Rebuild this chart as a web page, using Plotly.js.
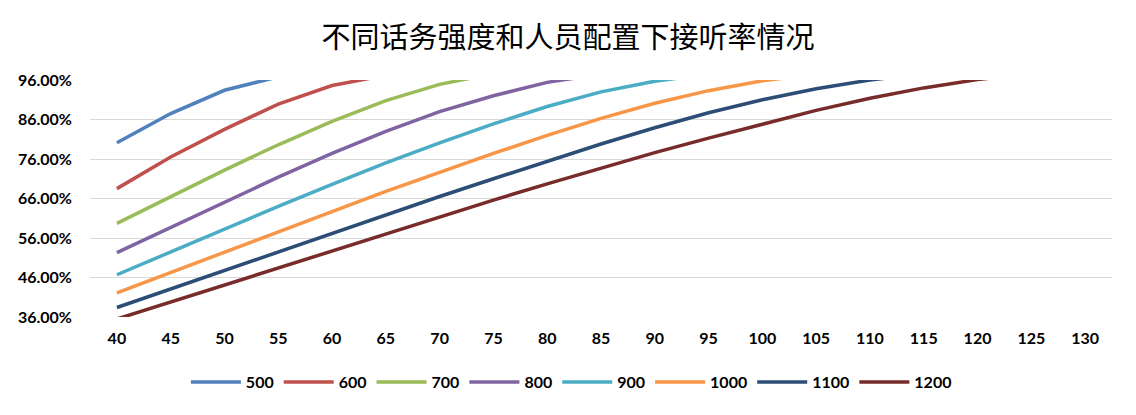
<!DOCTYPE html>
<html>
<head>
<meta charset="utf-8">
<script src="https://cdn.plot.ly/plotly-3.0.1.min.js"></script>
<style>
  html, body { margin: 0; padding: 0; background: #ffffff; }
  #chart { width: 1136px; height: 415px; }
</style>
</head>
<body>
<div id="chart"></div>
<script>
// 人员配置 (x axis categories)
const staffing = ['40', '45', '50', '55', '60', '65', '70', '75', '80', '85',
                  '90', '95', '100', '105', '110', '115', '120', '125', '130'];

// 话务强度 (series names)
const seriesNames = ['500', '600', '700', '800', '900', '1000', '1100', '1200'];

// 接听率 (values above 96% are clipped by the axis)
const rate500  = [0.801, 0.875, 0.934, 0.968, 0.984, 0.992, 0.996, 0.998, 0.999, 0.999, 1.000, 1.000, 1.000, 1.000, 1.000, 1.000, 1.000, 1.000, 1.000];
const rate600  = [0.685, 0.765, 0.835, 0.899, 0.946, 0.972, 0.986, 0.993, 0.997, 0.998, 0.999, 1.000, 1.000, 1.000, 1.000, 1.000, 1.000, 1.000, 1.000];
const rate700  = [0.597, 0.664, 0.732, 0.796, 0.855, 0.908, 0.949, 0.976, 0.988, 0.994, 0.997, 0.999, 0.999, 1.000, 1.000, 1.000, 1.000, 1.000, 1.000];
const rate800  = [0.523, 0.586, 0.651, 0.714, 0.774, 0.830, 0.880, 0.920, 0.954, 0.975, 0.987, 0.994, 0.997, 0.999, 0.999, 1.000, 1.000, 1.000, 1.000];
const rate900  = [0.467, 0.525, 0.583, 0.640, 0.696, 0.750, 0.801, 0.849, 0.893, 0.930, 0.957, 0.975, 0.987, 0.994, 0.997, 0.999, 0.999, 1.000, 1.000];
const rate1000 = [0.421, 0.473, 0.525, 0.576, 0.627, 0.678, 0.727, 0.774, 0.820, 0.863, 0.901, 0.933, 0.958, 0.975, 0.987, 0.994, 0.997, 0.999, 1.000];
const rate1100 = [0.384, 0.431, 0.478, 0.525, 0.572, 0.619, 0.665, 0.710, 0.755, 0.798, 0.839, 0.877, 0.910, 0.938, 0.960, 0.976, 0.987, 0.994, 0.997];
const rate1200 = [0.355, 0.398, 0.441, 0.485, 0.528, 0.571, 0.614, 0.656, 0.697, 0.737, 0.776, 0.813, 0.848, 0.883, 0.914, 0.940, 0.961, 0.977, 0.988];

const rates = [rate500, rate600, rate700, rate800, rate900, rate1000, rate1100, rate1200];

// Excel 2010 default palette, last two are the darker accent 1 / accent 2
const lineColors = ['#4F81BD', '#C0504D', '#9BBB59', '#8064A2',
                    '#4BACC6', '#F79646', '#2C4D75', '#772C2A'];

const latin = 'Lato, "Open Sans", "Noto Sans", sans-serif';
const cjk = '"Noto Sans CJK SC", "Noto Sans", sans-serif';

const traces = seriesNames.map((name, i) => ({
    x: staffing,
    y: rates[i],
    name: name,
    type: 'scatter',
    mode: 'lines',
    line: { color: lineColors[i], width: 3.5 },
    hovertemplate: '%{x}: %{y:.2%}<extra>' + name + '</extra>'
}));

const layout = {
    width: 1136,
    height: 415,
    paper_bgcolor: '#ffffff',
    plot_bgcolor: '#ffffff',
    margin: { t: 80, r: 24, b: 98, l: 90 },
    title: {
        text: '不同话务强度和人员配置下接听率情况',
        font: { family: cjk, size: 29, color: '#000000' },
        x: 0.5,
        xanchor: 'center',
        y: 0.91,
        yanchor: 'middle'
    },
    xaxis: {
        type: 'category',
        range: [-0.5, 18.5],
        showgrid: false,
        showline: false,
        zeroline: false,
        ticks: '',
        tickfont: { family: latin, size: 16, color: '#000000', weight: 'bold' },
        ticklabelstandoff: 10
    },
    yaxis: {
        range: [0.36, 0.96],
        tick0: 0.36,
        dtick: 0.1,
        tickformat: '.2%',
        showgrid: true,
        gridcolor: '#D9D9D9',
        gridwidth: 1,
        showline: false,
        zeroline: false,
        ticks: '',
        ticklabelstandoff: 17,
        tickfont: { family: latin, size: 16, color: '#000000', weight: 'bold' }
    },
    showlegend: true,
    legend: {
        orientation: 'h',
        x: 0.471,
        xanchor: 'center',
        y: -0.275,
        yanchor: 'middle',
        itemwidth: 50,
        font: { family: latin, size: 16, color: '#000000', weight: 'bold' },
        bgcolor: 'rgba(0,0,0,0)'
    }
};

Plotly.newPlot('chart', traces, layout, { displayModeBar: false, responsive: false });
</script>
</body>
</html>
